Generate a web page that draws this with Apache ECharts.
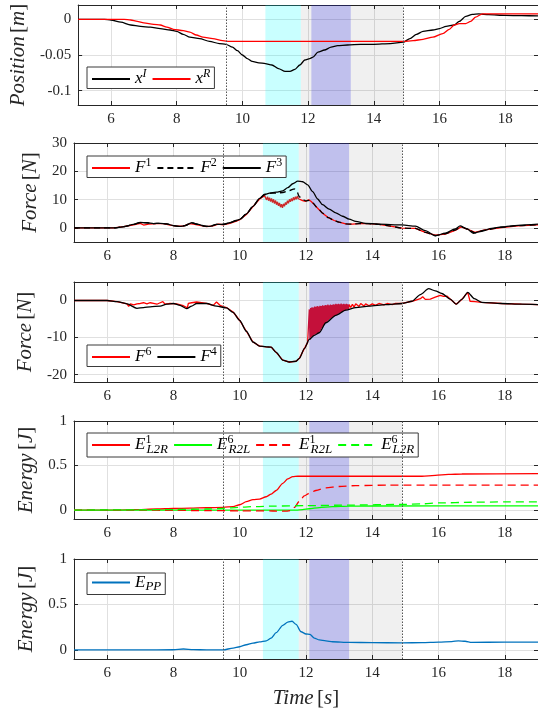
<!DOCTYPE html>
<html>
<head>
<meta charset="utf-8">
<script src="https://cdn.jsdelivr.net/npm/echarts@6/dist/echarts.min.js"></script>
<style>
  html, body { margin: 0; padding: 0; background: #ffffff; }
  #chart { width: 538px; height: 710px; }
</style>
</head>
<body>
<div id="chart"></div>
<script>
// ---- time axis ----
const timeTicks = [6, 8, 10, 12, 14, 16, 18];
const eventTimes = [9.5, 14.9];
const grayPhase = [11.78, 14.9];
const cyanPhase = [10.7, 11.78];
const bluePhase = [12.1, 13.3];

// ---- position [m] ----
const posTicks = [-0.1, -0.05, 0];
const xI = [[5,0],[5.8,0],[6.0,-0.001],[6.3,-0.004],[6.6,-0.008],[6.9,-0.010],[7.2,-0.011],[7.5,-0.013],[7.8,-0.015],[8.0,-0.017],[8.2,-0.021],[8.4,-0.025],[8.7,-0.027],[9.0,-0.031],[9.3,-0.034],[9.5,-0.035],[9.7,-0.039],[9.85,-0.044],[10.0,-0.050],[10.15,-0.055],[10.3,-0.059],[10.5,-0.061],[10.7,-0.062],[10.9,-0.064],[11.1,-0.069],[11.3,-0.073],[11.45,-0.073],[11.6,-0.070],[11.75,-0.064],[11.9,-0.057],[12.05,-0.055],[12.15,-0.053],[12.3,-0.046],[12.5,-0.043],[12.7,-0.039],[12.9,-0.037],[13.2,-0.036],[13.6,-0.035],[14.0,-0.035],[14.5,-0.034],[14.9,-0.032],[15.1,-0.027],[15.3,-0.021],[15.5,-0.017],[15.8,-0.015],[16.0,-0.013],[16.2,-0.010],[16.45,-0.008],[16.6,-0.003],[16.8,0.004],[17.0,0.007],[17.2,0.0075],[17.5,0.0065],[18.0,0.0055],[18.5,0.005],[19,0.0048]];
const xR = [[5,0],[6.4,0],[6.6,-0.001],[6.8,-0.003],[7.0,-0.005],[7.3,-0.007],[7.5,-0.008],[7.7,-0.011],[7.9,-0.014],[8.2,-0.016],[8.4,-0.018],[8.6,-0.022],[8.8,-0.025],[9.1,-0.027],[9.4,-0.030],[9.6,-0.031],[10,-0.031],[12,-0.031],[14,-0.031],[14.9,-0.031],[15.2,-0.030],[15.5,-0.028],[15.8,-0.025],[16.1,-0.020],[16.3,-0.014],[16.45,-0.008],[16.6,-0.006],[16.8,-0.006],[16.95,-0.003],[17.1,0.003],[17.3,0.0075],[18,0.0075],[19,0.0075]];

// ---- forces F1, F2, F3 [N] ----
const force1Ticks = [0, 10, 20, 30];
const F1 = [[5,0],[6.2,0],[6.5,0.4],[6.8,1.1],[7.0,1.6],[7.1,1.0],[7.25,1.3],[7.5,1.5],[7.7,1.5],[7.9,1.0],[8.1,0.6],[8.3,0.6],[8.5,1.5],[8.6,1.3],[8.8,0.9],[9.0,0.4],[9.2,0.7],[9.35,1.3],[9.5,1.1],[9.7,1.6],[9.9,2.4],[10.0,2.9],[10.2,4.7],[10.4,7.5],[10.6,10.2],[10.75,11.4],
  [10.78,11.2],[10.81,9.9],[10.84,11.0],[10.87,9.6],[10.90,10.7],[10.93,9.3],[10.96,10.4],[10.99,8.9],[11.02,10.1],[11.05,8.6],[11.08,9.7],[11.11,8.2],[11.14,9.2],[11.17,7.8],[11.20,8.8],[11.23,7.3],[11.26,8.4],[11.29,7.1],[11.32,8.5],[11.35,7.6],[11.38,9.0],[11.41,8.2],[11.44,9.6],[11.47,8.7],[11.50,10.1],[11.53,9.2],[11.56,10.4],[11.59,9.5],[11.62,10.8],[11.65,9.8],[11.68,11.0],[11.71,10.1],[11.74,11.3],[11.77,10.3],[11.80,10.6],
  [11.9,9.6],[11.98,9.4],[12.08,9.9],[12.15,9.4],[12.25,8.2],[12.38,6.6],[12.5,5.2],[12.68,3.6],[12.85,2.6],[13.0,2.0],[13.2,1.4],[13.4,1.3],[13.6,1.5],[13.9,1.5],[14.2,1.2],[14.5,0.7],[14.9,-0.1],[15.3,-0.2],[15.6,-1.6],[15.9,-2.6],[16.2,-2.2],[16.5,-0.9],[16.68,0.35],[16.88,-0.5],[17.1,-1.6],[17.4,-0.7],[17.9,0.1],[18.4,0.7],[19,1.05]];
const F2 = [[5,0],[6.2,0],[6.5,0.4],[6.8,1.2],[7.0,1.9],[7.2,1.8],[7.4,1.5],[7.6,1.6],[7.8,1.4],[8.0,0.8],[8.2,0.5],[8.35,0.8],[8.55,1.8],[8.75,1.2],[8.95,0.6],[9.1,0.5],[9.3,1.2],[9.5,1.2],[9.7,1.8],[9.9,2.6],[10.0,3.0],[10.2,4.9],[10.4,7.6],[10.6,10.4],[10.75,11.8],[10.9,12.2],[11.1,12.3],[11.3,12.5],[11.5,13.2],[11.65,13.8],[11.72,13.0],[11.8,11.0],[11.9,10.0],[12.0,9.5],[12.1,9.7],[12.2,8.8],[12.38,6.6],[12.5,5.2],[12.68,3.6],[12.85,2.6],[13.0,2.0],[13.2,1.4],[13.4,1.3],[13.6,1.5],[13.9,1.5],[14.2,1.2],[14.5,0.7],[14.9,-0.1],[15.3,-0.2],[15.6,-1.6],[15.9,-2.7],[16.2,-2.1],[16.5,-0.8],[16.68,0.4],[16.88,-0.5],[17.1,-1.8],[17.4,-0.8],[17.9,0.2],[18.4,0.8],[19,1.1]];
const F3 = [[5,0],[6.2,0],[6.5,0.4],[6.8,1.2],[7.0,1.9],[7.2,1.8],[7.4,1.5],[7.6,1.6],[7.8,1.4],[8.0,0.8],[8.2,0.5],[8.35,0.8],[8.55,1.8],[8.75,1.2],[8.95,0.6],[9.1,0.5],[9.3,1.2],[9.5,1.2],[9.7,1.8],[9.9,2.6],[10.0,3.0],[10.2,4.9],[10.4,7.6],[10.6,10.4],[10.75,11.8],[10.9,12.3],[11.1,12.6],[11.3,13.1],[11.45,14.2],[11.6,15.6],[11.75,16.5],[11.9,16.3],[12.05,15.2],[12.2,12.8],[12.35,10.2],[12.5,8.2],[12.7,6.6],[12.9,5.3],[13.1,4.1],[13.3,3.1],[13.5,2.3],[13.8,1.6],[14.2,1.3],[14.9,1.05],[15.3,0.6],[15.6,-1.0],[15.9,-2.8],[16.2,-1.9],[16.5,-0.4],[16.65,0.7],[16.85,-0.3],[17.05,-1.9],[17.3,-1.2],[17.6,-0.2],[17.9,0.3],[18.4,0.9],[19,1.3]];

// ---- forces F6, F4 [N] ----
const force2Ticks = [-20, -10, 0];
const F6 = [[5,0],[6.0,0],[6.3,-0.3],[6.6,-0.9],[6.65,-1.6],[6.7,-0.9],[6.8,-1.2],[6.9,-0.9],[7.0,-0.8],[7.1,-0.6],[7.2,-0.9],[7.3,-0.6],[7.4,-0.8],[7.5,-1.0],[7.6,-0.6],[7.68,-0.3],[7.75,-1.0],[7.9,-0.8],[8.1,-0.9],[8.3,-1.4],[8.42,-2.0],[8.45,-0.8],[8.55,-0.6],[8.7,-0.4],[8.85,-0.6],[9.0,-0.8],[9.2,-1.3],[9.3,-0.4],[9.35,-0.5],[9.42,-1.4],[9.6,-1.9],[9.8,-3.1],
  [10.0,-5.4],[10.2,-8.3],[10.4,-11.2],[10.6,-12.3],[10.8,-12.5],[10.95,-12.6],[11.1,-14.0],[11.3,-16.1],[11.5,-16.6],[11.7,-16.4],[11.8,-15.6],[11.95,-13.0],[12.05,-11.3],
  [12.08,-11.0],[12.10,-2.4],[12.12,-10.6],[12.14,-2.0],[12.16,-10.0],[12.18,-1.8],[12.20,-9.6],[12.22,-1.9],[12.24,-9.4],[12.26,-1.6],[12.28,-9.2],[12.30,-1.7],[12.32,-9.0],[12.34,-1.5],[12.36,-8.8],[12.38,-1.6],[12.40,-8.5],[12.42,-1.4],[12.44,-8.1],[12.46,-1.5],[12.48,-7.5],[12.50,-1.3],[12.52,-7.0],[12.54,-1.4],[12.56,-6.5],[12.58,-1.2],[12.60,-6.0],[12.62,-1.3],[12.64,-5.7],[12.66,-1.1],[12.68,-5.3],[12.70,-1.3],[12.72,-5.0],[12.74,-1.1],[12.76,-4.7],[12.78,-1.2],[12.80,-4.5],[12.82,-1.0],[12.84,-4.3],[12.86,-1.1],[12.88,-4.1],[12.90,-0.9],[12.92,-3.9],[12.94,-1.0],[12.96,-3.7],[12.98,-0.9],[13.00,-3.5],[13.02,-1.0],[13.04,-3.3],[13.06,-0.8],[13.08,-3.1],[13.10,-1.0],[13.12,-2.9],[13.14,-0.9],[13.16,-2.8],[13.18,-1.0],[13.20,-2.6],[13.22,-0.9],[13.24,-2.4],[13.26,-1.0],[13.28,-2.3],[13.30,-1.1],
  [13.35,-1.9],[13.4,-1.0],[13.45,-1.8],[13.5,-0.9],[13.6,-1.6],[13.65,-0.8],[13.75,-1.5],[13.8,-0.9],[13.9,-1.4],[14.0,-0.9],[14.1,-1.3],[14.2,-0.8],[14.35,-1.2],[14.45,-0.8],[14.6,-1.1],[14.7,-0.8],[14.9,-0.8],[15.2,-0.2],[15.45,0.5],[15.52,1.0],[15.6,0.3],[15.75,0.4],[15.9,0.9],[16.05,1.4],[16.15,1.1],[16.25,1.2],[16.35,0.4],[16.53,-1.0],[16.7,0.3],[16.88,2.2],[16.95,-0.2],[17.1,-0.3],[17.3,-0.5],[17.9,-0.8],[18.5,-1.0],[19,-1.1]];
const F4 = [[5,0],[6.0,0],[6.3,-0.3],[6.6,-0.9],[6.9,-2.1],[7.1,-1.9],[7.3,-1.7],[7.6,-1.5],[7.8,-1.0],[8.0,-0.8],[8.2,-1.3],[8.4,-2.2],[8.55,-1.5],[8.7,-0.8],[9.0,-0.8],[9.3,-1.5],[9.6,-2.0],[9.8,-3.2],[10.0,-5.4],[10.2,-8.3],[10.4,-11.2],[10.6,-12.3],[10.8,-12.5],[10.95,-12.6],[11.1,-14.0],[11.3,-16.1],[11.5,-16.6],[11.7,-16.4],[11.8,-15.6],[11.95,-13.0],[12.1,-10.5],[12.25,-9.4],[12.4,-8.7],[12.6,-6.0],[12.9,-4.0],[13.2,-2.6],[13.5,-1.9],[13.9,-1.5],[14.4,-1.1],[14.9,-0.8],[15.2,-0.2],[15.45,1.6],[15.7,3.2],[15.9,2.6],[16.1,1.9],[16.35,0.4],[16.53,-1.0],[16.7,0.3],[16.88,2.2],[17.08,0.5],[17.3,-0.5],[17.9,-0.8],[18.5,-1.0],[19,-1.1]];

// ---- transferred energies [J] ----
const energyTicks = [0, 0.5, 1];
const E1L2R = [[5,0],[6.3,0],[6.8,0.005],[7.5,0.012],[8.0,0.018],[8.5,0.022],[9.0,0.026],[9.5,0.03],[9.8,0.04],[10.0,0.06],[10.2,0.095],[10.4,0.118],[10.6,0.124],[10.8,0.15],[10.95,0.18],[11.1,0.22],[11.3,0.3],[11.45,0.35],[11.6,0.375],[11.75,0.38],[12,0.38],[15.5,0.38],[15.9,0.39],[16.3,0.40],[16.7,0.405],[19,0.41]];
const E6R2L = [[5,0],[11.7,0],[11.9,0.005],[12.1,0.015],[12.4,0.028],[12.8,0.038],[13.3,0.044],[14,0.046],[19,0.047]];
const E1R2L = [[5,0],[7,0],[8,-0.003],[9,-0.006],[10,-0.008],[11,-0.01],[11.4,-0.012],[11.55,-0.005],[11.65,0.03],[11.8,0.1],[11.95,0.16],[12.1,0.19],[12.3,0.22],[12.6,0.25],[13.0,0.265],[13.5,0.275],[14.5,0.28],[19,0.28]];
const E6L2R = [[5,0],[6.5,0.002],[8,0.006],[9,0.012],[9.5,0.02],[10,0.032],[10.5,0.04],[11,0.045],[12,0.05],[13.3,0.056],[14.9,0.064],[15.5,0.07],[16,0.08],[17,0.088],[18,0.092],[19,0.093]];

// ---- potential energy [J] ----
const EPP = [[5,0],[7,0],[8,0.002],[8.3,0.01],[8.6,0.003],[9,0],[9.5,0],[9.8,0.02],[10.0,0.035],[10.2,0.057],[10.4,0.075],[10.6,0.088],[10.8,0.1],[10.95,0.13],[11.1,0.19],[11.3,0.27],[11.45,0.305],[11.58,0.315],[11.7,0.28],[11.85,0.2],[12.0,0.175],[12.12,0.17],[12.25,0.13],[12.4,0.11],[12.6,0.1],[12.8,0.09],[13.3,0.083],[14,0.08],[14.9,0.078],[15.5,0.08],[16,0.085],[16.4,0.092],[16.6,0.1],[16.8,0.095],[17,0.083],[18,0.085],[19,0.085]];

// ---- styling ----
const SERIF = 'Liberation Serif';
const AXIS_COLOR = '#262626';
const GRID_COLOR = '#e0e0e0';

const nameRich = {
  i: { fontFamily: SERIF, fontStyle: 'italic', fontSize: 21, color: AXIS_COLOR },
  r: { fontFamily: SERIF, fontSize: 21, color: AXIS_COLOR }
};
const legendRich = {
  i: { fontFamily: SERIF, fontStyle: 'italic', fontSize: 17, lineHeight: 22, color: '#000' },
  sup: { fontFamily: SERIF, fontSize: 12, lineHeight: 13, verticalAlign: 'top', color: '#000' },
  supi: { fontFamily: SERIF, fontStyle: 'italic', fontSize: 12, lineHeight: 13, verticalAlign: 'top', color: '#000' },
  supz: { fontFamily: SERIF, fontSize: 12, lineHeight: 13, verticalAlign: 'top', width: 1, color: '#000' },
  sub: { fontFamily: SERIF, fontStyle: 'italic', fontSize: 13, lineHeight: 13, verticalAlign: 'bottom', color: '#000' }
};
const legendText = {
  xI: '{i|x}{supi|I}',
  xR: '{i|x}{supi|R}',
  F1: '{i|F}{sup|1}',
  F2: '{i|F}{sup|2}',
  F3: '{i|F}{sup|3}',
  F6: '{i|F}{sup|6}',
  F4: '{i|F}{sup|4}',
  E1L2R: '{i|E}{supz|1}{sub|L2R}',
  E6R2L: '{i|E}{supz|6}{sub|R2L}',
  E1R2L: '{i|E}{supz|1}{sub|R2L}',
  E6L2R: '{i|E}{supz|6}{sub|L2R}',
  EPP: '{i|E}{sub|PP}'
};

const panels = [
  { top: 5,   height: 100, min: -0.12, max: 0.02, ticks: posTicks,    name: '{i|Position} {r|[}{i|m}{r|]}', gap: 31, legendTop: 67,
    series: [['xI', xI, '#000000', 'solid'], ['xR', xR, '#ff0000', 'solid']] },
  { top: 143, height: 99,  min: -5,    max: 30,   ticks: force1Ticks, name: '{i|Force} {r|[}{i|N}{r|]}', gap: 26, legendTop: 156,
    series: [['F1', F1, '#ff0000', 'solid'], ['F2', F2, '#000000', [6, 4]], ['F3', F3, '#000000', 'solid']] },
  { top: 282, height: 100, min: -22,   max: 5,    ticks: force2Ticks, name: '{i|Force} {r|[}{i|N}{r|]}', gap: 31, legendTop: 345,
    series: [['F6', F6, '#ff0000', 'solid'], ['F4', F4, '#000000', 'solid']] },
  { top: 421, height: 98,  min: -0.1,  max: 1,    ticks: energyTicks, name: '{i|Energy} {r|[}{i|J}{r|]}', gap: 29, legendTop: 433,
    series: [['E1L2R', E1L2R, '#ff0000', 'solid'], ['E6R2L', E6R2L, '#00ff00', 'solid'], ['E1R2L', E1R2L, '#ff0000', [8, 5]], ['E6L2R', E6L2R, '#00ff00', [8, 5]]] },
  { top: 559, height: 100, min: -0.1,  max: 1,    ticks: energyTicks, name: '{i|Energy} {r|[}{i|J}{r|]}', gap: 29, legendTop: 573,
    series: [['EPP', EPP, '#0072bd', 'solid']] }
];

// darker tint where the contact forces chatter
const chatterBands = { F1: [10.76, 11.81, '#cc2a2a'], F6: [12.07, 13.31, '#c4103a'] };

const grids = [], xAxes = [], yAxes = [], seriesList = [], legends = [], visualMaps = [];

panels.forEach((p, k) => {
  grids.push({ left: 74, width: 467, top: p.top, height: p.height });
  const isLast = k === panels.length - 1;
  // bottom time axis with labels and grid lines
  xAxes.push({
    type: 'value', gridIndex: k, min: 5, max: 19, position: 'bottom',
    axisLine: { show: true, onZero: false, lineStyle: { color: AXIS_COLOR, width: 1 } },
    axisTick: { show: true, inside: true, length: 4, customValues: timeTicks, lineStyle: { color: AXIS_COLOR } },
    axisLabel: { show: true, customValues: timeTicks, margin: 7, fontFamily: SERIF, fontSize: 15, color: AXIS_COLOR },
    splitLine: { show: true, lineStyle: { color: GRID_COLOR, width: 1 } },
    name: isLast ? '{i|Time} {r|[}{i|s}{r|]}' : '',
    nameLocation: 'middle', nameGap: 29,
    nameTextStyle: { rich: nameRich }
  });
  // top frame edge
  xAxes.push({
    type: 'value', gridIndex: k, min: 5, max: 19, position: 'top',
    axisLine: { show: true, onZero: false, lineStyle: { color: AXIS_COLOR, width: 1 } },
    axisTick: { show: true, inside: true, length: 4, customValues: timeTicks, lineStyle: { color: AXIS_COLOR } },
    axisLabel: { show: false }, splitLine: { show: false }
  });
  // left value axis
  yAxes.push({
    type: 'value', gridIndex: k, min: p.min, max: p.max, position: 'left',
    axisLine: { show: true, onZero: false, lineStyle: { color: AXIS_COLOR, width: 1 } },
    axisTick: { show: true, inside: true, length: 4, customValues: p.ticks, lineStyle: { color: AXIS_COLOR } },
    axisLabel: { show: true, customValues: p.ticks, margin: 7, fontFamily: SERIF, fontSize: 15, color: AXIS_COLOR,
      formatter: v => String(v) },
    splitLine: { show: true, lineStyle: { color: GRID_COLOR, width: 1 } },
    name: p.name, nameLocation: 'middle', nameGap: p.gap,
    nameTextStyle: { rich: nameRich }
  });
  // right frame edge
  yAxes.push({
    type: 'value', gridIndex: k, min: p.min, max: p.max, position: 'right',
    axisLine: { show: true, onZero: false, lineStyle: { color: AXIS_COLOR, width: 1 } },
    axisTick: { show: true, inside: true, length: 4, customValues: p.ticks, lineStyle: { color: AXIS_COLOR } },
    axisLabel: { show: false }, splitLine: { show: false }
  });

  p.series.forEach((s, j) => {
    const entry = {
      type: 'line', name: s[0], data: s[1],
      xAxisIndex: 2 * k, yAxisIndex: 2 * k,
      symbol: 'none', smooth: 0.25, smoothMonotone: 'x',
      lineStyle: { color: s[2], width: 1.3, type: s[3] },
      itemStyle: { color: s[2] },
      emphasis: { disabled: true },
      z: 3 + j
    };
    if (chatterBands[s[0]]) {
      // colour comes from the visualMap along the time dimension
      entry.smooth = false;
      entry.lineStyle = { width: 1.3, type: s[3] };
      delete entry.itemStyle;
      const b = chatterBands[s[0]];
      visualMaps.push({
        show: false, type: 'piecewise', dimension: 0, seriesIndex: seriesList.length,
        pieces: [
          { lt: b[0], color: s[2] },
          { gte: b[0], lte: b[1], color: b[2] },
          { gt: b[1], color: s[2] }
        ]
      });
    }
    if (j === 0) {
      entry.markArea = {
        silent: true,
        data: [
          [{ xAxis: grayPhase[0], itemStyle: { color: 'rgba(0,0,0,0.06)' } }, { xAxis: grayPhase[1] }],
          [{ xAxis: cyanPhase[0], itemStyle: { color: 'rgba(0,255,255,0.21)' } }, { xAxis: cyanPhase[1] }],
          [{ xAxis: bluePhase[0], itemStyle: { color: 'rgba(40,40,230,0.24)' } }, { xAxis: bluePhase[1] }]
        ]
      };
      entry.markLine = {
        silent: true, symbol: ['none', 'none'], label: { show: false },
        lineStyle: { color: '#555555', type: [1.5, 1.5], width: 1 },
        data: eventTimes.map(t => ({ xAxis: t }))
      };
    }
    seriesList.push(entry);
  });

  legends.push({
    data: p.series.map(s => ({ name: s[0], itemStyle: { color: s[2] }, lineStyle: { color: s[2] } })),
    left: 87, top: p.legendTop,
    orient: 'horizontal',
    itemWidth: 38, itemHeight: 12, itemGap: 5,
    padding: [1, 4, 1, 4],
    backgroundColor: '#ffffff',
    borderColor: '#3a3a3a', borderWidth: 1, borderRadius: 0,
    selectedMode: false,
    itemStyle: { opacity: 0 },
    formatter: n => legendText[n],
    textStyle: { rich: legendRich }
  });
});

const chart = echarts.init(document.getElementById('chart'), null, { renderer: 'canvas' });
chart.setOption({
  animation: false,
  backgroundColor: '#ffffff',
  grid: grids,
  xAxis: xAxes,
  yAxis: yAxes,
  legend: legends,
  visualMap: visualMaps,
  series: seriesList
});
</script>
</body>
</html>
